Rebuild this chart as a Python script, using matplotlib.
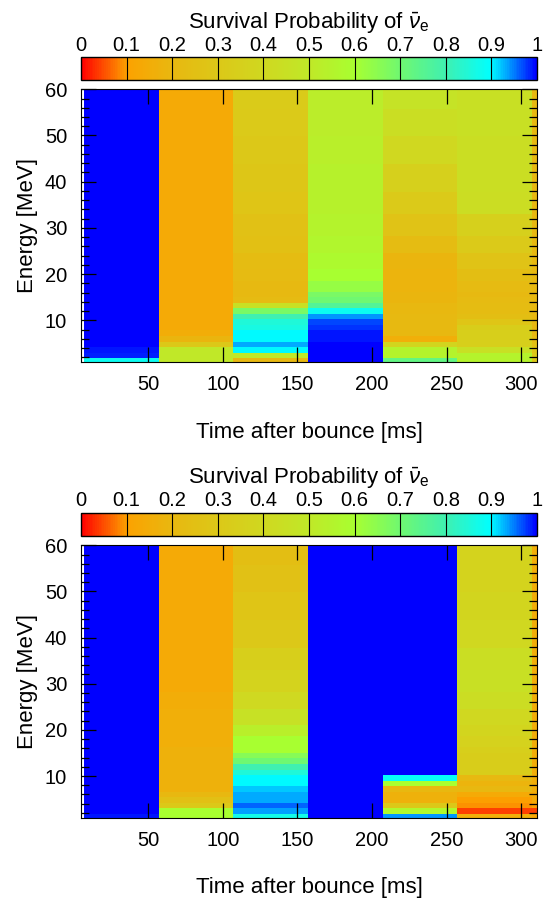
import numpy as np
import matplotlib.pyplot as plt
from matplotlib.colors import LinearSegmentedColormap
from matplotlib.ticker import MultipleLocator

plt.rcParams['font.family'] = ['Liberation Sans', 'DejaVu Sans']
plt.rcParams['mathtext.fontset'] = 'custom'
plt.rcParams['mathtext.rm'] = 'Liberation Sans'
plt.rcParams['mathtext.it'] = 'Liberation Sans:italic'

# time bins (ms) and energy bins (MeV)
t_edges = [7, 57, 107, 157, 207, 257, 307, 357]
e_edges = [0.6, 1.8, 3.0, 4.2, 5.4, 6.6, 7.8, 9.0, 10.2, 11.4, 12.6, 13.8, 15.0, 16.2,
           18.6, 21.0, 24.6, 28.2, 33.0, 37.8, 43.8, 49.8, 55.8, 60.6]

# upper panel: survival probability per time bin, low -> high energy
up_t1 = [0.88, 0.985, 0.99, 1.0, 1.0, 1.0, 1.0, 1.0, 1.0, 1.0, 1.0, 1.0, 1.0,
         1.0, 1.0, 1.0, 1.0, 1.0, 1.0, 1.0, 1.0, 1.0, 1.0]
up_t2 = [0.5, 0.5, 0.5, 0.3, 0.19, 0.15, 0.14, 0.14, 0.14, 0.14, 0.14, 0.14, 0.14,
         0.14, 0.14, 0.14, 0.14, 0.14, 0.14, 0.14, 0.14, 0.14, 0.14]
up_t3 = [0.2, 0.5, 0.9, 0.93, 0.9, 0.9, 0.86, 0.85, 0.8, 0.68, 0.45, 0.22, 0.21,
         0.21, 0.22, 0.23, 0.25, 0.26, 0.28, 0.29, 0.3, 0.31, 0.32]
up_t4 = [1.0, 1.0, 1.0, 1.0, 0.99, 0.99, 0.98, 0.97, 0.94, 0.88, 0.76, 0.7, 0.68,
         0.63, 0.6, 0.58, 0.56, 0.55, 0.54, 0.54, 0.53, 0.52, 0.52]
up_t5 = [0.73, 0.55, 0.55, 0.38, 0.16, 0.2, 0.21, 0.21, 0.21, 0.2, 0.2, 0.19, 0.19,
         0.18, 0.18, 0.19, 0.23, 0.27, 0.31, 0.35, 0.4, 0.44, 0.47]
up_t6 = [0.55, 0.55, 0.45, 0.34, 0.34, 0.34, 0.33, 0.28, 0.24, 0.23, 0.23, 0.22, 0.21,
         0.22, 0.24, 0.27, 0.31, 0.35, 0.43, 0.44, 0.44, 0.45, 0.45]
up_t7 = [0.3, 0.3, 0.28, 0.25, 0.22, 0.2, 0.2, 0.2, 0.2, 0.2, 0.2, 0.2, 0.2,
         0.2, 0.2, 0.2, 0.2, 0.2, 0.2, 0.2, 0.2, 0.2, 0.2]

# lower panel
lo_t1 = [0.99, 1.0, 1.0, 1.0, 1.0, 1.0, 1.0, 1.0, 1.0, 1.0, 1.0, 1.0, 1.0,
         1.0, 1.0, 1.0, 1.0, 1.0, 1.0, 1.0, 1.0, 1.0, 1.0]
lo_t2 = [0.6, 0.6, 0.3, 0.25, 0.2, 0.17, 0.17, 0.17, 0.17, 0.17, 0.17, 0.17, 0.17,
         0.16, 0.16, 0.16, 0.15, 0.14, 0.14, 0.14, 0.14, 0.14, 0.14]
lo_t3 = [0.87, 0.935, 0.96, 0.93, 0.93, 0.92, 0.9, 0.9, 0.85, 0.8, 0.7, 0.66, 0.6,
         0.6, 0.53, 0.46, 0.41, 0.37, 0.34, 0.3, 0.28, 0.26, 0.24]
lo_t4 = [1.0, 1.0, 1.0, 1.0, 1.0, 1.0, 1.0, 1.0, 1.0, 1.0, 1.0, 1.0, 1.0,
         1.0, 1.0, 1.0, 1.0, 1.0, 1.0, 1.0, 1.0, 1.0, 1.0]
lo_t5 = [0.94, 0.57, 0.3, 0.17, 0.17, 0.2, 0.6, 0.89, 1.0, 1.0, 1.0, 1.0, 1.0,
         1.0, 1.0, 1.0, 1.0, 1.0, 1.0, 1.0, 1.0, 1.0, 1.0]
lo_t6 = [0.16, 0.04, 0.09, 0.1, 0.14, 0.2, 0.18, 0.21, 0.33, 0.33, 0.33, 0.33, 0.34,
         0.36, 0.38, 0.4, 0.43, 0.45, 0.44, 0.4, 0.38, 0.37, 0.37]
lo_t7 = [0.12, 0.04, 0.1, 0.14, 0.14, 0.15, 0.15, 0.15, 0.15, 0.15, 0.15, 0.15, 0.15,
         0.15, 0.15, 0.15, 0.15, 0.15, 0.15, 0.15, 0.15, 0.15, 0.15]

cb_ticks = [0, 0.1, 0.2, 0.3, 0.4, 0.5, 0.6, 0.7, 0.8, 0.9, 1.0]
cb_labels = ['0', '0.1', '0.2', '0.3', '0.4', '0.5', '0.6', '0.7', '0.8', '0.9', '1']

cmap = LinearSegmentedColormap.from_list('surv', [
    (0.0, '#ff0000'), (0.1, '#fca200'), (0.2, '#e8b810'), (0.3, '#dcc818'),
    (0.4, '#d0d820'), (0.5, '#c0e828'), (0.6, '#a8ff30'), (0.7, '#70f870'),
    (0.8, '#40f0b0'), (0.9, '#00ffff'), (1.0, '#0000ff')])

top_vals = np.column_stack([up_t1, up_t2, up_t3, up_t4, up_t5, up_t6, up_t7])
bot_vals = np.column_stack([lo_t1, lo_t2, lo_t3, lo_t4, lo_t5, lo_t6, lo_t7])

fig = plt.figure(figsize=(5.48, 8.99), dpi=100)
W = 548.0
H = 899.0


def panel(vals, ax_top, ax_bot, cb_top, cb_bot):
    ax = fig.add_axes([81 / W, 1 - ax_bot / H, 456 / W, (ax_bot - ax_top) / H])
    cax = fig.add_axes([81 / W, 1 - cb_bot / H, 456 / W, (cb_bot - cb_top) / H])
    mesh = ax.pcolormesh(t_edges, e_edges, vals, cmap=cmap, vmin=0, vmax=1)
    ax.set_xlim(5, 310.5)
    ax.set_ylim(0.9, 60)
    ax.set_xticks([50, 100, 150, 200, 250, 300])
    ax.set_yticks([10, 20, 30, 40, 50, 60])
    ax.yaxis.set_minor_locator(MultipleLocator(2))
    ax.tick_params(which='both', direction='in', top=True, right=True,
                   width=0.9, labelsize=14.5)
    ax.tick_params(which='major', length=11)
    ax.tick_params(which='minor', length=5.8)
    ax.tick_params(axis='x', pad=9)
    ax.tick_params(axis='y', pad=10)
    ax.set_xlabel('Time after bounce [ms]', fontsize=16, labelpad=20)
    ax.set_ylabel('Energy [MeV]', fontsize=16, labelpad=5)

    cb = fig.colorbar(mesh, cax=cax, orientation='horizontal')
    cb.set_ticks(cb_ticks)
    cb.set_ticklabels(cb_labels)
    cax.xaxis.set_ticks_position('top')
    cax.tick_params(length=0, labelsize=14.5, pad=2)
    for v in cb_ticks[1:-1]:
        cax.axvline(v, color='black', lw=0.8)
    cb.outline.set_linewidth(1.0)
    cax.set_title(r'Survival Probability of $\bar{\nu}_{\rm e}$', fontsize=16, pad=5)


panel(top_vals, 89.3, 362.3, 57.3, 80.0)
panel(bot_vals, 545.3, 818.0, 512.7, 535.7)

fig.savefig('out.png', dpi=100)
